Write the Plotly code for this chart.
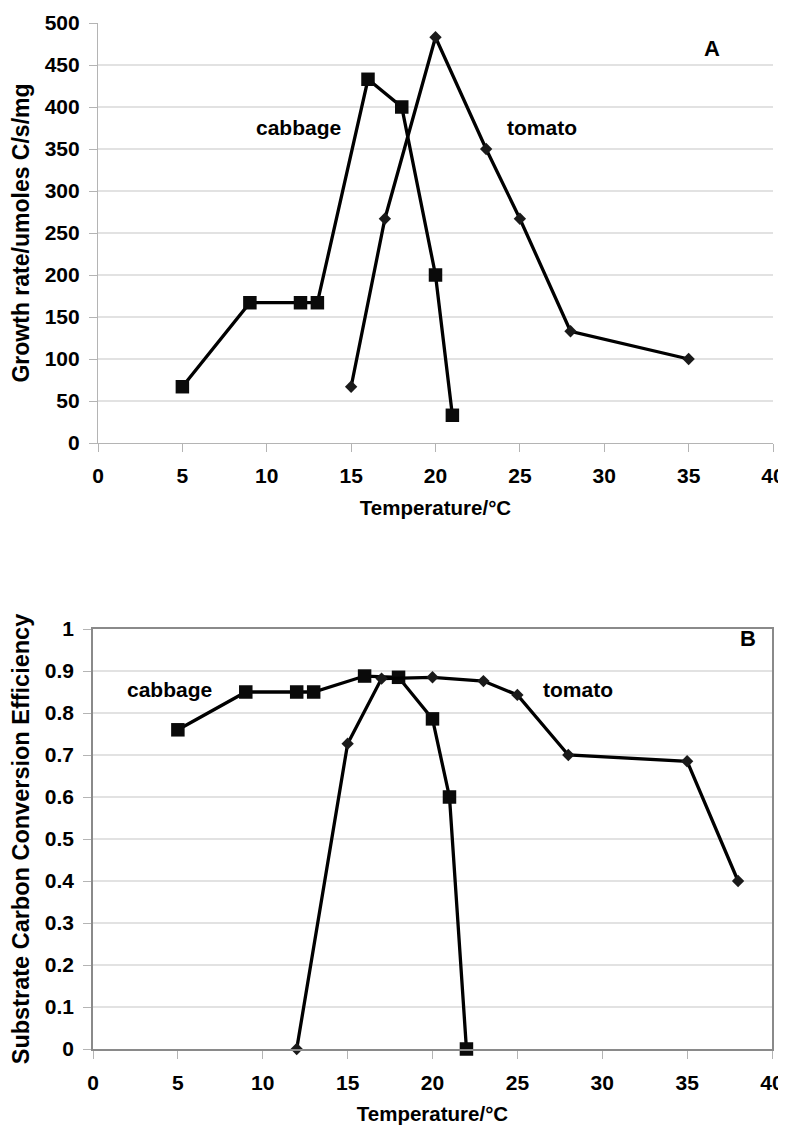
import plotly.graph_objects as go

# ---- data ----
cab_a_x = [5, 9, 12, 13, 16, 18, 20, 21]
cab_a_y = [67, 167, 167, 167, 433, 400, 200, 33]
tom_a_x = [15, 17, 20, 23, 25, 28, 35]
tom_a_y = [67, 267, 483, 350, 267, 133, 100]

cab_b_x = [5, 9, 12, 13, 16, 18, 20, 21, 22]
cab_b_y = [0.76, 0.85, 0.85, 0.85, 0.888, 0.885, 0.786, 0.60, 0.0]
tom_b_x = [12, 15, 17, 20, 23, 25, 28, 35, 38]
tom_b_y = [0.0, 0.727, 0.882, 0.885, 0.876, 0.843, 0.70, 0.685, 0.40]

x_ticks = [0, 5, 10, 15, 20, 25, 30, 35, 40]
ya_ticks = [0, 50, 100, 150, 200, 250, 300, 350, 400, 450, 500]
yb_ticks = [0, 0.1, 0.2, 0.3, 0.4, 0.5, 0.6, 0.7, 0.8, 0.9, 1]
yb_labels = ["0", "0.1", "0.2", "0.3", "0.4", "0.5", "0.6", "0.7", "0.8", "0.9", "1"]

FONT = "Liberation Sans, Arial, sans-serif"
# page body adds an 8px margin, so the figure is 8px smaller than the window
W, H = 778, 1117

fig = go.Figure()

line_style = dict(color="black", width=3.3)
sq = dict(symbol="square", size=13.5, color="#0a0a0a")
dm = dict(symbol="diamond", size=9.5, color="#1a1a1a")

fig.add_trace(go.Scatter(x=cab_a_x, y=cab_a_y, mode="lines+markers", line=line_style,
                         marker=sq, xaxis="x", yaxis="y", showlegend=False))
fig.add_trace(go.Scatter(x=tom_a_x, y=tom_a_y, mode="lines+markers", line=line_style,
                         marker=dm, xaxis="x", yaxis="y", showlegend=False))
fig.add_trace(go.Scatter(x=cab_b_x, y=cab_b_y, mode="lines+markers", line=line_style,
                         marker=sq, xaxis="x2", yaxis="y2", showlegend=False, cliponaxis=False))
fig.add_trace(go.Scatter(x=tom_b_x, y=tom_b_y, mode="lines+markers", line=line_style,
                         marker=dm, xaxis="x2", yaxis="y2", showlegend=False, cliponaxis=False))

tickfont = dict(family=FONT, size=21, color="black")
xtitlefont = dict(family=FONT, size=20.5, color="black")

shapes = []
for v in ya_ticks[1:-1]:
    shapes.append(dict(type="line", xref="x domain", x0=0, x1=1, yref="y", y0=v, y1=v,
                       line=dict(color="#c6c6c6", width=1.2), layer="below"))
for v in yb_ticks[1:-1]:
    shapes.append(dict(type="line", xref="x2 domain", x0=0, x1=1, yref="y2", y0=v, y1=v,
                       line=dict(color="#c6c6c6", width=1.2), layer="below"))

common_x = dict(range=[0, 40], tickvals=x_ticks, ticktext=[f"<b>{v}</b>" for v in x_ticks],
                tickfont=tickfont, showgrid=False, zeroline=False, showline=True, automargin=False,
                ticks="outside", ticklen=8, tickcolor="#b4b4b4", tickwidth=1.2,
                ticklabelstandoff=6)
common_y = dict(tickfont=tickfont, showgrid=False, zeroline=False, showline=True, automargin=False,
                ticks="outside", ticklen=8, tickcolor="#b4b4b4", tickwidth=1.2,
                ticklabelstandoff=5)

fig.update_layout(
    width=W, height=H,
    margin=dict(l=0, r=0, t=0, b=0, autoexpand=False),
    paper_bgcolor="white", plot_bgcolor="white",
    font=dict(family=FONT, color="black"),
    shapes=shapes,
    xaxis=dict(domain=[90 / W, 765 / W], anchor="y", linecolor="#b4b4b4", linewidth=1.2,
               title=dict(text="<b>Temperature/°C</b>", font=xtitlefont, standoff=14), **common_x),
    yaxis=dict(domain=[1 - 435 / H, 1 - 15 / H], anchor="x", range=[0, 500], tickvals=ya_ticks,
               ticktext=[f"<b>{v}</b>" for v in ya_ticks], linecolor="#b4b4b4", linewidth=1.2,
               title=dict(text="<b>Growth rate/umoles C/s/mg</b>",
                          font=dict(family=FONT, size=23, color="black"), standoff=10),
               **common_y),
    xaxis2=dict(domain=[85 / W, 764 / W], anchor="y2", mirror=True, linecolor="#8a8a8a", linewidth=1.5,
                title=dict(text="<b>Temperature/°C</b>", font=xtitlefont, standoff=14), **common_x),
    yaxis2=dict(domain=[1 - 1041 / H, 1 - 621 / H], anchor="x2", range=[0, 1], tickvals=yb_ticks,
                ticktext=[f"<b>{t}</b>" for t in yb_labels], mirror=True, linecolor="#8a8a8a",
                linewidth=1.5,
                title=dict(text="<b>Substrate Carbon Conversion Efficiency</b>",
                           font=dict(family=FONT, size=23.5, color="black"), standoff=10),
                **common_y),
)

ann_font = dict(family=FONT, size=21, color="black")
fig.add_annotation(x=11.9, y=375, xref="x", yref="y", text="<b>cabbage</b>", showarrow=False, font=ann_font)
fig.add_annotation(x=26.3, y=375, xref="x", yref="y", text="<b>tomato</b>", showarrow=False, font=ann_font)
fig.add_annotation(x=36.4, y=470, xref="x", yref="y", text="<b>A</b>", showarrow=False, font=dict(family=FONT, size=22, color="black"))
fig.add_annotation(x=4.5, y=0.856, xref="x2", yref="y2", text="<b>cabbage</b>", showarrow=False, font=ann_font)
fig.add_annotation(x=28.6, y=0.856, xref="x2", yref="y2", text="<b>tomato</b>", showarrow=False, font=ann_font)
fig.add_annotation(x=38.6, y=0.978, xref="x2", yref="y2", text="<b>B</b>", showarrow=False, font=dict(family=FONT, size=22, color="black"))

fig.write_html("out.html")
